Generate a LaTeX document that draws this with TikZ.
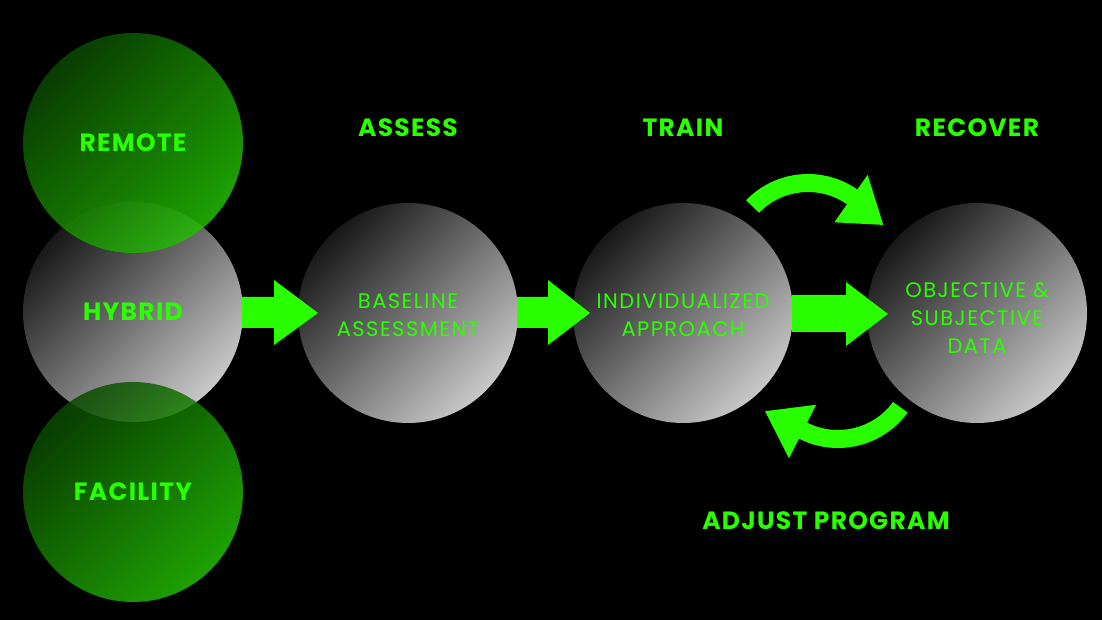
\documentclass[tikz,border=0pt]{standalone}
\usepackage{fontspec}
\setmainfont{Poppins}
\usetikzlibrary{calc}
\definecolor{neon}{RGB}{42,255,0}
\definecolor{gdark}{RGB}{24,24,24}
\definecolor{glight}{RGB}{200,200,200}
\definecolor{grdark}{RGB}{10,72,0}
\definecolor{grlight}{RGB}{36,190,4}
\begin{document}
\begin{tikzpicture}[x=1pt,y=1pt,
  greyball/.style={circle,minimum size=220pt,inner sep=0pt,shading=axis,top color=gdark,bottom color=glight,shading angle=45},
  greenball/.style={circle,minimum size=220pt,inner sep=0pt,shading=axis,top color=grdark,bottom color=grlight,shading angle=45,fill opacity=0.85},
  headlabel/.style={text=neon,font=\fontsize{25}{29}\selectfont\bfseries\addfontfeature{LetterSpace=5}},
  balllabel/.style={text=neon,font=\fontsize{21}{27.7}\selectfont\addfontfeature{LetterSpace=7},align=center},
  arrowfill/.style={fill=neon,draw=none}
]
\fill[black] (0,0) rectangle (1102,620);
\useasboundingbox (0,0) rectangle (1102,620);
% grey balls
\node[greyball] (hybrid) at (133,308) {};
\node[greyball] (base) at (408,307) {};
\node[greyball] (indiv) at (683,307) {};
\node[greyball] (obj) at (977,307) {};
% green balls
\node[greenball] (remote) at (133,477) {};
\node[greenball] (facility) at (133,128) {};
% straight arrows
\fill[arrowfill] (242,323) -- (274,323) -- (274,340) -- (318,307) -- (274,275) -- (274,292) -- (242,292) -- cycle;
\fill[arrowfill] (517,323) -- (548,323) -- (548,340) -- (590,307) -- (548,275) -- (548,292) -- (517,292) -- cycle;
\fill[arrowfill] (792,325) -- (846,325) -- (846,338) -- (888,306) -- (846,274) -- (846,288) -- (792,288) -- cycle;
% curved arrows
\coordinate (c1) at (808,360);
\fill[arrowfill] ($(c1)+(136:86)$) arc[start angle=136,end angle=55,radius=86]
  -- ($(c1)+(55:104)$) -- ($(c1)+(25:83)$) -- ($(c1)+(55:46)$) -- ($(c1)+(55:68)$)
  arc[start angle=55,end angle=136,radius=68] -- cycle;
\coordinate (c2) at (838,258);
\fill[arrowfill] ($(c2)+(-36:86)$) arc[start angle=-36,end angle=-117,radius=86]
  -- ($(c2)+(-117:108)$) -- ($(c2)+(-146:88)$) -- ($(c2)+(-117:48)$) -- ($(c2)+(-117:68)$)
  arc[start angle=-117,end angle=-36,radius=68] -- cycle;
% labels
\node[headlabel] at (remote) {REMOTE};
\node[headlabel] at (hybrid) {HYBRID};
\node[headlabel] at (facility) {FACILITY};
\node[headlabel] (assess) at (408,492) {ASSESS};
\node[headlabel] (train) at (683,492) {TRAIN};
\node[headlabel] (recover) at (977,492) {RECOVER};
\node[headlabel] (adjust) at (826,99) {ADJUST PROGRAM};
\node[balllabel] at ($(base)+(0,-2)$) {BASELINE\\ASSESSMENT};
\node[balllabel] at ($(indiv)+(0,-2)$) {INDIVIDUALIZED\\APPROACH};
\node[balllabel] at ($(obj)+(0,-5)$) {OBJECTIVE \&\\SUBJECTIVE\\DATA};
\end{tikzpicture}
\end{document}
